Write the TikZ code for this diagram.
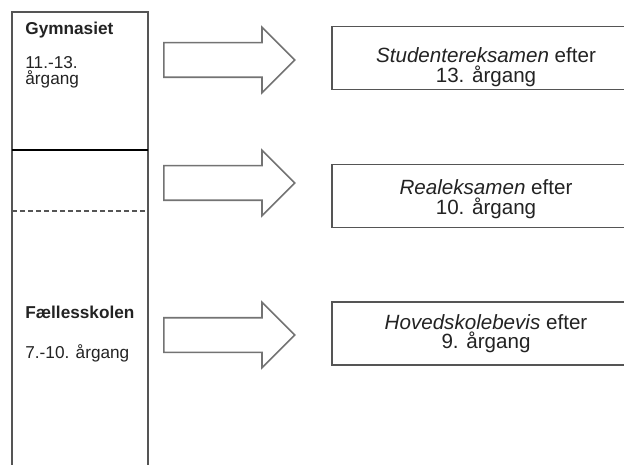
\documentclass[tikz,border=0pt]{standalone}
\usepackage{fontspec}
\setmainfont{Liberation Sans}
\usetikzlibrary{shapes.arrows}
\definecolor{rand}{RGB}{85,85,85}
\definecolor{pil}{RGB}{115,115,115}
\definecolor{tekst}{RGB}{35,35,35}

\begin{document}
\begin{tikzpicture}[x=0.5pt,y=-0.5pt,
    pilform/.style={single arrow, draw=pil, line width=0.8pt, fill=white, inner xsep=0pt, inner ysep=8.25pt,
        minimum height=65.5pt, single arrow head extend=7.75pt, anchor=tail},
    eksamen/.style={draw=rand, line width=0.8pt, inner sep=0pt, minimum width=154pt, minimum height=31.5pt},
    eksamentekst/.style={text=tekst, align=center, inner sep=0pt, font=\fontsize{10.3}{9.8}\selectfont},
    skoletekst/.style={text=tekst, align=left, anchor=base west, inner sep=0pt, font=\fontsize{8.6}{6.4}\selectfont}]

    \useasboundingbox[fill=white] (0,0) rectangle (624,464);

    % venstre kolonne
    \draw[rand, line width=1pt] (12,480) -- (12,12) -- (148,12) -- (148,480);
    \draw[black, line width=1.1pt] (12,150) -- (148,150);
    \draw[rand, line width=0.8pt, dash pattern=on 2.5pt off 1.5pt] (12,211) -- (148,211);

    \node[skoletekst, font=\fontsize{8.6}{6.4}\selectfont\bfseries] (G) at (25,35) {Gymnasiet};
    \node[skoletekst] (G1) at (25,85) {11.-13.\\årgang};
    \node[skoletekst, font=\fontsize{8.6}{6.4}\selectfont\bfseries] (F) at (25,318) {Fællesskolen};
    \node[skoletekst] (F1) at (25,358) {7.-10. årgang};

    \foreach \x/\y in {1/60, 2/183, 3/335}{
        \node[pilform] (P\x) at (163,\y) {};
    }

    \foreach \x/\y/\t/\z in {1/58/67/{\textit{Studentereksamen} efter\\13. årgang},
                             2/196/199/{\textit{Realeksamen} efter\\10. årgang},
                             3/333.5/333.5/{\textit{Hovedskolebevis} efter\\9. årgang}}{
        \node[eksamen] (E\x) at (486,\y) {};
        \node[eksamentekst] (T\x) at (486,\t) {\z};
    }

\end{tikzpicture}
\end{document}
